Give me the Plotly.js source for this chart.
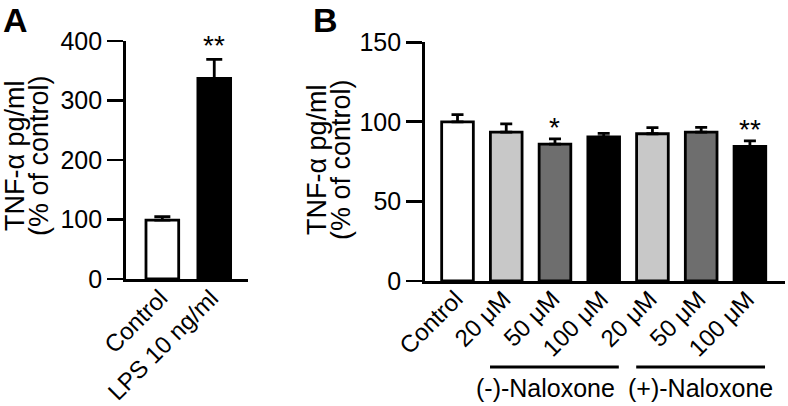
<!DOCTYPE html>
<html>
<head>
<meta charset="utf-8">
<script src="https://cdn.plot.ly/plotly-3.0.1.min.js"></script>
<style>html,body{margin:0;padding:0;background:#fff;}#chart{width:788px;height:406px;}</style>
</head>
<body>
<div id="chart"></div>
<script>
// Panel A data
const catsA = ['Control', 'LPS 10 ng/ml'];
const valsA = [99, 337];
const errA = [6, 32];
const sigA = ['', '**'];
const colorsA = ['#ffffff', '#000000'];

// Panel B data
const catsB = ['Control', '20 μM', '50 μM', '100 μM', '20 μM', '50 μM', '100 μM'];
const valsB = [100, 93.5, 86, 90.5, 92.5, 93.5, 84.5];
const errB = [4.5, 5.2, 3.3, 2.2, 3.8, 3.0, 3.5];
const sigB = ['', '', '*', '', '', '', '**'];
const colorsB = ['#ffffff', '#c8c8c8', '#6e6e6e', '#000000', '#c8c8c8', '#6e6e6e', '#000000'];
const groupsB = [
  {label: '(-)-Naloxone', from: 1, to: 3},
  {label: '(+)-Naloxone', from: 4, to: 6}
];
const yTitle1 = 'TNF-α pg/ml';
const yTitle2 = '(% of control)';

const W = 788, H = 406;
const mt = 41, mb = 125;
const plotH = H - mt - mb;
const px = v => v / W;
const py = v => (H - mb - v) / plotH;

const FONT = 'Arial, "Liberation Sans", sans-serif';
const LW = 2.8;
const idxA = catsA.map((_, i) => i);
const idxB = catsB.map((_, i) => i);

const traces = [
  {
    type: 'bar', x: idxA, y: valsA, width: 0.63,
    xaxis: 'x', yaxis: 'y',
    marker: {color: colorsA, line: {color: '#000', width: LW}},
    error_y: {type: 'data', symmetric: false, array: errA, arrayminus: errA.map(() => 0),
      color: '#000', thickness: LW, width: 8},
    hoverinfo: 'none'
  },
  {
    type: 'bar', x: idxB, y: valsB, width: 0.65,
    xaxis: 'x2', yaxis: 'y2',
    marker: {color: colorsB, line: {color: '#000', width: LW}},
    error_y: {type: 'data', symmetric: false, array: errB, arrayminus: errB.map(() => 0),
      color: '#000', thickness: LW, width: 6},
    hoverinfo: 'none'
  }
];

const annotations = [];
const shapes = [];

// rotated category labels
const tickFont = {size: 24, color: '#000', family: FONT};
catsA.forEach((c, i) => {
  annotations.push({xref: 'x', yref: 'paper', x: idxA[i], y: py(283), xshift: 11,
    xanchor: 'right', yanchor: 'top', textangle: -45, borderpad: 0,
    text: c, showarrow: false, font: tickFont});
});
catsB.forEach((c, i) => {
  annotations.push({xref: 'x2', yref: 'paper', x: idxB[i], y: py(284), xshift: 11,
    xanchor: 'right', yanchor: 'top', textangle: -45, borderpad: 0,
    text: c, showarrow: false, font: tickFont});
});

// significance stars
sigA.forEach((s, i) => {
  if (s) annotations.push({xref: 'x', yref: 'y', x: idxA[i], y: valsA[i] + errA[i],
    yanchor: 'bottom', text: s, showarrow: false, yshift: -4, font: {size: 28, color: '#000', family: FONT}});
});
sigB.forEach((s, i) => {
  if (s) annotations.push({xref: 'x2', yref: 'y2', x: idxB[i], y: valsB[i] + errB[i],
    yanchor: 'bottom', text: s, showarrow: false, yshift: -6, font: {size: 28, color: '#000', family: FONT}});
});

// group lines and labels
const labelX = [1.8, 4.98];
groupsB.forEach((g, k) => {
  shapes.push({type: 'line', xref: 'x2', yref: 'paper', x0: g.from - 0.333, x1: g.to + 0.31,
    y0: py(367), y1: py(367), line: {color: '#000', width: LW}});
  annotations.push({xref: 'x2', yref: 'paper', x: labelX[k], y: py(388), xanchor: 'center', yanchor: 'middle',
    text: g.label, showarrow: false, font: {size: 25, color: '#000', family: FONT}});
});

// panel letters
annotations.push({xref: 'paper', yref: 'paper', x: px(15), y: py(0), xanchor: 'center', yanchor: 'top',
  borderpad: 0, text: '<b>A</b>', showarrow: false, font: {size: 34, color: '#000', family: FONT}});
annotations.push({xref: 'paper', yref: 'paper', x: px(325), y: py(0), xanchor: 'center', yanchor: 'top',
  borderpad: 0, text: '<b>B</b>', showarrow: false, font: {size: 34, color: '#000', family: FONT}});

// y titles (two tight lines)
[[15, 39, 156], [317, 341, 160]].forEach(([x1, x2, yc]) => {
  annotations.push({xref: 'paper', yref: 'paper', x: px(x1), y: py(yc), xanchor: 'center', yanchor: 'middle',
    textangle: -90, text: yTitle1, showarrow: false, font: {size: 27, color: '#000', family: FONT}});
  annotations.push({xref: 'paper', yref: 'paper', x: px(x2), y: py(yc), xanchor: 'center', yanchor: 'middle',
    textangle: -90, text: yTitle2, showarrow: false, font: {size: 27, color: '#000', family: FONT}});
});

const xCommon = {showline: true, linecolor: '#000', linewidth: LW, ticks: '', showgrid: false,
  zeroline: false, showticklabels: false, fixedrange: true, tickmode: 'array'};
const yCommon = {showline: true, linecolor: '#000', linewidth: LW, ticks: 'outside', ticklen: 16,
  tickwidth: LW, tickcolor: '#000', showgrid: false, zeroline: false,
  tickfont: {size: 25, color: '#000', family: FONT}, fixedrange: true};

const layout = {
  width: W, height: H,
  margin: {l: 0, r: 0, t: mt, b: mb, pad: 0},
  paper_bgcolor: '#fff', plot_bgcolor: '#fff',
  showlegend: false,
  font: {family: FONT, color: '#000'},
  xaxis: Object.assign({}, xCommon, {domain: [px(126), px(248)], range: [-0.7, 1.65], anchor: 'y',
    tickvals: idxA}),
  yaxis: Object.assign({}, yCommon, {domain: [2 / plotH, 1], range: [0, 400], anchor: 'x',
    tickmode: 'array', tickvals: [0, 100, 200, 300, 400]}),
  xaxis2: Object.assign({}, xCommon, {domain: [px(425), px(785)], range: [-0.667, 6.72], anchor: 'y2',
    tickvals: idxB}),
  yaxis2: Object.assign({}, yCommon, {domain: [0, 0.995], range: [0, 150], anchor: 'x2',
    tickmode: 'array', tickvals: [0, 50, 100, 150]}),
  annotations: annotations,
  shapes: shapes
};

Plotly.newPlot('chart', traces, layout, {staticPlot: true, displayModeBar: false});
</script>
</body>
</html>
